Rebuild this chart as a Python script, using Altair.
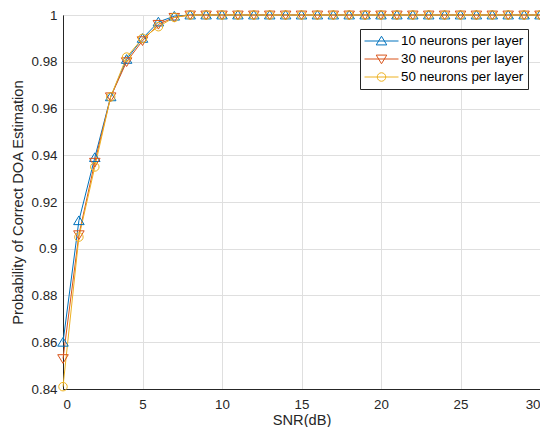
import altair as alt
import pandas as pd

snr = list(range(0, 31))
labels = ["10 neurons per layer", "30 neurons per layer", "50 neurons per layer"]
s10 = [0.860, 0.912, 0.939, 0.965, 0.981, 0.990, 0.997, 0.9995] + [1.0] * 23
s30 = [0.853, 0.906, 0.937, 0.965, 0.980, 0.989, 0.996, 0.999] + [1.0] * 23
s50 = [0.841, 0.905, 0.935, 0.965, 0.982, 0.990, 0.995, 0.999] + [1.0] * 23
colors = ["#0072BD", "#D95319", "#EDB120"]
y_ticks = [0.84, 0.86, 0.88, 0.90, 0.92, 0.94, 0.96, 0.98, 1.0]
x_ticks = [0, 5, 10, 15, 20, 25, 30]

rows = []
for lab, vals in zip(labels, [s10, s30, s50]):
    for x, v in zip(snr, vals):
        rows.append({"snr": x, "p": v, "series": lab, "series_l": lab})
df = pd.DataFrame(rows)

# marker paths (unit scaled by sqrt(size)/2)
tri_up = "M0,-0.28L0.31,0.23L-0.31,0.23Z"
tri_dn = "M0,0.28L0.31,-0.23L-0.31,-0.23Z"
circ = "M0.25,0A0.25,0.25,0,1,1,-0.25,0A0.25,0.25,0,1,1,0.25,0Z"
SYM = 1156
FONT = "Liberation Sans"

common_leg = dict(
    orient="none", legendX=297, legendY=14, title=None,
    symbolSize=SYM, symbolStrokeWidth=1, labelFontSize=13.33, labelFont=FONT,
    labelColor="#000000", padding=4, rowPadding=2, labelOffset=2, clipHeight=16,
)

xenc = alt.X("snr:Q", title="SNR(dB)",
             scale=alt.Scale(domain=[0, 30], nice=False),
             axis=alt.Axis(values=x_ticks, labelPadding=8, titlePadding=2))
yenc = alt.Y("p:Q", title="Probability of Correct DOA Estimation",
             scale=alt.Scale(domain=[0.84, 1.0], nice=False, zero=False),
             axis=alt.Axis(values=y_ticks, labelPadding=6, titlePadding=6, format="~g"))

lines = alt.Chart(df).mark_line(strokeWidth=1).encode(
    x=xenc, y=yenc,
    stroke=alt.Stroke("series_l:N", scale=alt.Scale(range=colors),
                      legend=alt.Legend(symbolType="stroke", fillColor="white",
                                        strokeColor="#262626", zindex=1, **common_leg)),
)

points = alt.Chart(df).mark_point(filled=False, size=SYM, strokeWidth=1, opacity=1).encode(
    x=xenc, y=yenc,
    color=alt.Color("series:N", scale=alt.Scale(domain=labels, range=colors),
                    legend=alt.Legend(labelOpacity=0, zindex=2, **common_leg)),
    shape=alt.Shape("series:N", scale=alt.Scale(domain=labels, range=[tri_up, tri_dn, circ]),
                    legend=alt.Legend(labelOpacity=0, zindex=2, **common_leg)),
)

chart = alt.layer(lines, points).properties(
    width=477, height=374,
    autosize=alt.AutoSizeParams(type="none"),
    padding={"left": 55, "top": 7, "right": 0, "bottom": 38},
).configure_view(
    stroke="#262626", strokeWidth=1,
).configure_axis(
    grid=True, gridColor="#dfdfdf", gridWidth=1,
    domainColor="#262626", domainWidth=1,
    ticks=False, tickSize=0,
    labelFont=FONT, labelFontSize=13.33, labelColor="#262626",
    titleFont=FONT, titleFontSize=14.67, titleColor="#262626", titleFontWeight="normal",
)

chart.save("out.html", embed_options={"renderer": "svg", "actions": False})
